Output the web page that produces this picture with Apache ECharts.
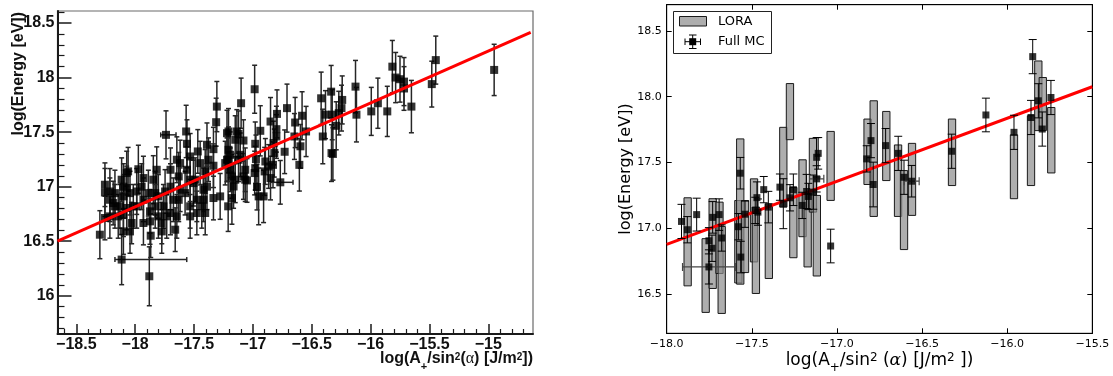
<!DOCTYPE html>
<html><head><meta charset="utf-8">
<script src="https://cdn.jsdelivr.net/npm/echarts@6/dist/echarts.min.js"></script>
<style>html,body{margin:0;padding:0;background:#fff}#c{width:1113px;height:376px}</style>
</head><body><div id="c"></div>
<script>
// ---------- Left panel (ROOT style) ----------
const leftXTicks = [-18.5, -18, -17.5, -17, -16.5, -16, -15.5, -15];
const leftYTicks = [16, 16.5, 17, 17.5, 18, 18.5];
const leftXRange = [-18.66, -14.62];
const leftYRange = [15.65, 18.61];
// [x, y, yErr, xErrLow, xErrHigh]
const leftPoints = [
[-14.95,18.07,0.235,0,0],[-15.446,18.16,0.22,0,0],[-15.48,17.94,0.21,0,0],[-15.653,17.734,0.24,0,0],
[-15.716,17.963,0.22,0,0],[-15.716,17.90,0.2,0,0],[-15.75,17.985,0.21,0,0],[-15.787,18.0,0.23,0,0],
[-15.815,18.10,0.24,0,0],[-15.858,17.69,0.23,0,0],[-15.938,17.765,0.23,0,0],[-15.994,17.69,0.22,0,0],
[-16.12,17.66,0.25,0,0],[-16.128,17.917,0.24,0,0],[-16.241,17.795,0.22,0,0],[-16.247,17.72,0.21,0,0],
[-16.27,17.674,0.2,0,0],[-16.292,17.558,0.22,0,0],[-16.326,17.66,0.23,0,0],[-16.335,17.871,0.24,0,0],
[-16.383,17.66,0.22,0,0],[-16.42,17.81,0.24,0,0],[-16.406,17.46,0.25,0,0],[-16.332,17.308,0.26,0,0],
[-16.32,17.30,0.24,0,0],[-16.548,17.506,0.23,0,0],[-16.582,17.65,0.22,0,0],[-16.596,17.37,0.2,0,0],
[-16.605,17.20,0.24,0,0],[-16.641,17.588,0.23,0,0],[-16.647,17.46,0.21,0,0],[-16.71,17.72,0.22,0,0],
[-16.73,17.32,0.2,0,0],[-16.795,17.667,0.22,0,0],[-16.80,17.527,0.21,0,0],[-16.80,17.46,0.2,0,0],
[-16.818,17.308,0.22,0,0],[-16.829,17.20,0.21,0,0],[-16.767,17.04,0.2,0.085,0.108],
[-16.985,17.893,0.22,0,0],[-17.10,17.765,0.23,0,0],[-17.136,17.506,0.2,0,0],[-17.122,17.484,0.21,0,0],
[-17.08,17.423,0.19,0,0],[-16.937,17.512,0.23,0,0],[-16.98,17.393,0.2,0,0],[-16.974,17.253,0.22,0,0],
[-16.85,17.597,0.22,0,0],[-16.824,17.40,0.2,0,0],[-16.85,17.079,0.2,0,0],[-16.965,16.997,0.21,0,0],
[-16.951,16.911,0.26,0,0],[-16.909,16.911,0.24,0,0],[-16.90,17.14,0.22,0,0],[-16.98,17.17,0.2,0,0],
[-16.985,17.125,0.2,0,0],[-17.05,17.057,0.2,0,0],[-17.08,17.094,0.21,0,0],[-17.107,17.292,0.2,0,0],
[-17.15,17.064,0.21,0,0],[-17.164,17.002,0.2,0,0],[-17.192,17.155,0.2,0,0],[-17.207,17.338,0.21,0,0],
[-17.21,17.247,0.2,0,0],[-17.178,16.896,0.24,0,0],[-17.21,16.82,0.23,0,0],[-17.15,17.43,0.22,0,0],
[-17.207,17.506,0.21,0,0],[-17.306,17.734,0.23,0,0],[-17.312,17.591,0.22,0,0],[-17.335,17.344,0.2,0,0],
[-17.335,17.192,0.2,0,0],[-17.335,16.896,0.2,0,0],[-17.278,16.911,0.21,0,0],[-17.22,17.49,0.21,0,0],
[-17.738,17.475,0.22,0.045,0.085],[-17.567,17.506,0.24,0,0],[-17.56,17.393,0.22,0,0],[-17.618,17.216,0.21,0,0],
[-17.468,17.323,0.2,0,0],[-17.42,16.972,0.2,0,0],[-17.49,17.064,0.2,0,0],[-17.973,17.16,0.22,0,0],
[-18.06,17.14,0.22,0,0],[-18.072,17.125,0.2,0,0],[-18.257,16.947,0.22,0,0],[-18.257,16.713,0.2,0,0],
[-18.30,16.56,0.22,0,0],[-18.115,16.332,0.23,0.057,0.553],[-17.88,16.179,0.27,0,0],[-17.868,16.551,0.2,0,0],
[-18.10,17.0,0.21,0,0],[-18.10,16.911,0.2,0,0],[-18.10,16.743,0.2,0,0],[-18.03,16.667,0.19,0,0],
[-18.044,16.59,0.2,0,0],[-18.10,16.59,0.21,0,0],[-18.215,16.88,0.2,0,0],[-18.172,16.941,0.21,0,0],
[-18.13,16.82,0.2,0,0],[-17.945,17.0,0.21,0,0],[-17.93,16.88,0.2,0,0],[-17.93,16.667,0.2,0,0],
[-17.846,17.064,0.22,0,0],[-17.83,16.941,0.2,0,0],[-17.83,16.82,0.2,0,0],[-17.774,16.667,0.19,0,0],
[-17.76,16.82,0.2,0,0],[-17.774,16.59,0.2,0,0],[-17.70,17.0,0.21,0,0],[-17.70,16.759,0.2,0,0],
[-17.63,17.094,0.22,0,0],[-17.63,16.88,0.2,0,0],[-17.646,16.728,0.2,0,0],[-17.56,17.155,0.21,0,0],
[-17.576,16.941,0.2,0,0],[-17.533,16.82,0.2,0,0],[-17.66,16.606,0.2,0,0],[-17.505,17.033,0.21,0,0],
[-17.476,16.88,0.2,0,0],[-17.434,16.82,0.2,0,0],[-17.39,17.0,0.21,0,0],[-17.405,17.14,0.2,0,0],
[-17.533,17.064,0.2,0,0],[-17.803,16.911,0.2,0,0],[-17.888,16.941,0.21,0,0],[-17.874,16.774,0.2,0,0],
[-17.987,16.82,0.2,0,0],[-17.987,16.956,0.21,0,0],[-18.187,16.85,0.2,0,0],[-18.044,16.941,0.2,0,0],
[-18.072,16.805,0.2,0,0],[-17.39,17.384,0.2,0,0],[-17.22,17.247,0.2,0,0],[-17.193,17.292,0.21,0,0],
[-17.065,17.064,0.2,0,0],[-18.257,17.018,0.2,0,0],[-18.215,16.728,0.2,0,0],[-18.172,16.82,0.2,0,0],
[-17.675,16.88,0.2,0,0],[-17.732,16.728,0.2,0,0],[-17.803,16.728,0.2,0,0],[-17.874,16.682,0.21,0,0],
[-17.533,16.728,0.2,0,0],[-17.476,16.759,0.2,0,0],[-17.42,16.88,0.2,0,0],[-17.405,16.759,0.2,0,0],
[-17.618,16.972,0.2,0,0],[-17.746,16.956,0.2,0,0],[-17.817,17.155,0.21,0,0],[-17.70,17.155,0.2,0,0],
[-17.646,17.247,0.21,0,0],[-17.533,17.277,0.21,0,0],[-17.448,17.216,0.2,0,0],[-17.377,17.247,0.2,0,0],
[-18.016,16.82,0.2,0,0],[-18.144,16.728,0.2,0,0],[-18.215,16.956,0.21,0,0],[-17.93,17.079,0.2,0,0],
[-18.115,17.064,0.2,0,0],[-18.072,16.988,0.2,0,0],[-17.122,17.247,0.2,0,0],[-17.065,17.155,0.2,0,0],
[-17.178,17.094,0.2,0,0],[-17.235,17.216,0.2,0,0],[-16.894,17.231,0.21,0,0],[-16.866,17.185,0.2,0,0]
];
const leftFit = [[-18.66, 16.50], [-14.64, 18.415]];

// ---------- Right panel (matplotlib style) ----------
const rightXTicks = [-18, -17.5, -17, -16.5, -16, -15.5];
const rightYTicks = [16.5, 17, 17.5, 18, 18.5];
const rightXRange = [-18, -15.5];
const rightYRange = [16.2, 18.7];
// LORA: [x, yLow, yHigh]
const loraBoxes = [
[-17.877,16.561,17.231],[-17.771,16.359,16.92],[-17.730,16.541,17.224],[-17.690,16.655,17.198],
[-17.677,16.351,17.013],[-17.579,16.583,17.21],[-17.568,16.574,17.679],[-17.540,16.662,17.21],
[-17.487,16.743,17.375],[-17.476,16.503,17.16],[-17.400,16.617,17.186],[-17.315,17.16,17.767],
[-17.276,17.673,18.10],[-17.256,16.775,17.31],[-17.202,16.935,17.52],[-17.172,16.705,17.261],
[-17.141,17.122,17.683],[-17.118,16.636,17.249],[-17.037,17.211,17.736],[-16.820,17.332,17.83],
[-16.784,17.089,17.969],[-16.710,17.362,17.888],[-16.641,17.089,17.633],[-16.606,16.837,17.438],
[-16.559,17.097,17.645],[-16.324,17.324,17.83],[-15.960,17.224,17.71],[-15.860,17.324,17.855],
[-15.817,17.742,18.272],[-15.791,17.742,18.146],[-15.741,17.42,17.918]
];
// Full MC: [x, y, yErr, xErr]
const fullMC = [
[-17.913,17.051,0.13,0],[-17.879,16.988,0.1,0],[-17.824,17.103,0.125,0],[-17.752,16.904,0.1,0],
[-17.734,16.847,0.1,0],[-17.752,16.705,0.13,0.155],[-17.73,17.082,0.12,0],[-17.692,17.103,0.12,0],
[-17.677,16.925,0.1,0],[-17.568,17.418,0.12,0],[-17.579,17.011,0.1,0],[-17.565,16.78,0.12,0],
[-17.54,17.106,0.1,0],[-17.48,17.135,0.1,0],[-17.47,17.232,0.12,0],[-17.464,17.122,0.1,0],
[-17.43,17.293,0.1,0],[-17.403,17.16,0.12,0],[-17.335,17.312,0.1,0],[-17.315,17.186,0.19,0],
[-17.276,17.231,0.1,0],[-17.256,17.292,0.12,0],[-17.204,17.173,0.1,0],[-17.178,17.279,0.13,0],
[-17.168,17.241,0.1,0],[-17.139,17.274,0.13,0],[-17.119,17.375,0.1,0.042],[-17.119,17.539,0.15,0],
[-17.11,17.569,0.12,0],[-17.037,16.864,0.128,0],[-16.825,17.527,0.1,0],[-16.80,17.666,0.13,0],
[-16.787,17.332,0.17,0],[-16.714,17.628,0.13,0],[-16.64,17.569,0.13,0],[-16.606,17.387,0.13,0],
[-16.561,17.357,0.12,0.044],[-16.326,17.585,0.13,0],[-16.125,17.861,0.128,0],[-15.96,17.729,0.13,0],
[-15.86,17.842,0.13,0],[-15.85,18.305,0.13,0],[-15.817,17.969,0.13,0],[-15.794,17.754,0.13,0],
[-15.743,17.994,0.13,0]
];
const rightFit = [[-18, 16.876], [-15.5, 18.076]];
const legendNames = ['LORA', 'Full MC'];

// ---------- helpers ----------
function minorTicks(major, range, step) {
  const out = [];
  const start = Math.floor(range[0] / step) * step;
  for (let v = start; v <= range[1] + 1e-9; v += step) {
    const r = Math.round(v * 1000) / 1000;
    if (r < range[0] || r > range[1]) continue;
    if (major.some(m => Math.abs(m - r) < 1e-6)) continue;
    out.push(r);
  }
  return out;
}
const minus = v => (v < 0 ? '\u2212' : '') + Math.abs(v);
const minus1 = v => (v < 0 ? '\u2212' : '') + Math.abs(v).toFixed(1);

const ROOTF = 'Liberation Sans';
const MPLF = 'DejaVu Sans';

function leftErr(params, api) {
  const x = api.value(0), y = api.value(1), ey = api.value(2), xl = api.value(3), xh = api.value(4);
  const c = api.coord([x, y]);
  const t = api.coord([x, y + ey]), b = api.coord([x, y - ey]);
  const st = { stroke: '#262626', lineWidth: 1.5 };
  const cap = 2.5;
  const ch = [
    { type: 'line', shape: { x1: c[0], y1: t[1], x2: c[0], y2: b[1] }, style: st },
    { type: 'line', shape: { x1: c[0] - cap, y1: t[1], x2: c[0] + cap, y2: t[1] }, style: st },
    { type: 'line', shape: { x1: c[0] - cap, y1: b[1], x2: c[0] + cap, y2: b[1] }, style: st }
  ];
  if (xl > 0 || xh > 0) {
    const l = api.coord([x - xl, y]), r = api.coord([x + xh, y]);
    ch.push({ type: 'line', shape: { x1: l[0], y1: c[1], x2: r[0], y2: c[1] }, style: st });
    ch.push({ type: 'line', shape: { x1: l[0], y1: c[1] - cap, x2: l[0], y2: c[1] + cap }, style: st });
    ch.push({ type: 'line', shape: { x1: r[0], y1: c[1] - cap, x2: r[0], y2: c[1] + cap }, style: st });
  }
  return { type: 'group', children: ch };
}
function rightErr(params, api) {
  const x = api.value(0), y = api.value(1), ey = api.value(2), ex = api.value(3);
  const c = api.coord([x, y]);
  const t = api.coord([x, y + ey]), b = api.coord([x, y - ey]);
  const st = { stroke: '#000', lineWidth: 1 };
  const cap = 4;
  const ch = [
    { type: 'line', shape: { x1: c[0], y1: t[1], x2: c[0], y2: b[1] }, style: st },
    { type: 'line', shape: { x1: c[0] - cap, y1: t[1], x2: c[0] + cap, y2: t[1] }, style: st },
    { type: 'line', shape: { x1: c[0] - cap, y1: b[1], x2: c[0] + cap, y2: b[1] }, style: st }
  ];
  if (ex > 0) {
    const l = api.coord([x - ex, y]), r = api.coord([x + ex, y]);
    const hs = { stroke: '#444', lineWidth: 1.2 };
    ch.push({ type: 'line', shape: { x1: l[0], y1: c[1], x2: r[0], y2: c[1] }, style: hs });
    ch.push({ type: 'line', shape: { x1: l[0], y1: c[1] - cap, x2: l[0], y2: c[1] + cap }, style: hs });
    ch.push({ type: 'line', shape: { x1: r[0], y1: c[1] - cap, x2: r[0], y2: c[1] + cap }, style: hs });
  }
  return { type: 'group', children: ch };
}
function loraBox(params, api) {
  const x = api.value(0), lo = api.value(1), hi = api.value(2);
  const p1 = api.coord([x, hi]), p2 = api.coord([x, lo]);
  const w = 7.3;
  return { type: 'rect', shape: { x: p1[0] - w / 2, y: p1[1], width: w, height: p2[1] - p1[1] },
           style: { fill: 'rgba(140,140,140,0.7)', stroke: '#1a1a1a', lineWidth: 1 } };
}

const chart = echarts.init(document.getElementById('c'));
const option = {
  animation: false,
  backgroundColor: '#fff',
  grid: [
    { left: 57.5, top: 11, width: 475.5, height: 323, show: true, borderColor: '#6a6a6a', borderWidth: 1.2, containLabel: false },
    { left: 666.7, top: 4.7, width: 425.6, height: 328.6, show: true, borderColor: '#111', borderWidth: 1, containLabel: false }
  ],
  xAxis: [
    { type: 'value', gridIndex: 0, min: leftXRange[0], max: leftXRange[1], position: 'bottom',
      axisLine: { show: true, onZero: false, lineStyle: { color: '#1a1a1a', width: 2 } },
      axisTick: { show: true, inside: true, length: 10, customValues: leftXTicks, lineStyle: { color: '#1a1a1a', width: 1.5 } },
      axisLabel: { show: true, customValues: leftXTicks, formatter: minus, fontFamily: ROOTF, fontWeight: 'bold', fontSize: 16, color: '#111', margin: 3 },
      splitLine: { show: false } },
    { type: 'value', gridIndex: 0, min: leftXRange[0], max: leftXRange[1], position: 'bottom',
      axisLine: { show: false, onZero: false },
      axisTick: { show: true, inside: true, length: 5, customValues: minorTicks(leftXTicks, leftXRange, 0.1), lineStyle: { color: '#1a1a1a', width: 1.2 } },
      axisLabel: { show: false }, splitLine: { show: false } },
    { type: 'value', gridIndex: 1, min: rightXRange[0], max: rightXRange[1], position: 'bottom',
      axisLine: { show: true, onZero: false, lineStyle: { color: '#000', width: 1 } },
      axisTick: { show: true, inside: true, length: 5, customValues: rightXTicks, lineStyle: { color: '#000' } },
      axisLabel: { show: true, customValues: rightXTicks, formatter: minus1, fontFamily: MPLF, fontSize: 11, color: '#000', margin: 5 },
      splitLine: { show: false } },
    { type: 'value', gridIndex: 1, min: rightXRange[0], max: rightXRange[1], position: 'top',
      axisLine: { show: true, onZero: false, lineStyle: { color: '#000', width: 1 } },
      axisTick: { show: true, inside: true, length: 5, customValues: rightXTicks, lineStyle: { color: '#000' } },
      axisLabel: { show: false }, splitLine: { show: false } }
  ],
  yAxis: [
    { type: 'value', gridIndex: 0, min: leftYRange[0], max: leftYRange[1], position: 'left',
      axisLine: { show: true, onZero: false, lineStyle: { color: '#1a1a1a', width: 2 } },
      axisTick: { show: true, inside: true, length: 14, customValues: leftYTicks, lineStyle: { color: '#1a1a1a', width: 1.5 } },
      axisLabel: { show: true, customValues: leftYTicks, formatter: minus, fontFamily: ROOTF, fontWeight: 'bold', fontSize: 16, color: '#111', margin: 3 },
      splitLine: { show: false } },
    { type: 'value', gridIndex: 0, min: leftYRange[0], max: leftYRange[1], position: 'left',
      axisLine: { show: false, onZero: false },
      axisTick: { show: true, inside: true, length: 7, customValues: minorTicks(leftYTicks, leftYRange, 0.1), lineStyle: { color: '#1a1a1a', width: 1.2 } },
      axisLabel: { show: false }, splitLine: { show: false } },
    { type: 'value', gridIndex: 1, min: rightYRange[0], max: rightYRange[1], position: 'left',
      axisLine: { show: true, onZero: false, lineStyle: { color: '#000', width: 1 } },
      axisTick: { show: true, inside: true, length: 5, customValues: rightYTicks, lineStyle: { color: '#000' } },
      axisLabel: { show: true, customValues: rightYTicks, formatter: minus1, fontFamily: MPLF, fontSize: 11, color: '#000', margin: 5 },
      splitLine: { show: false } },
    { type: 'value', gridIndex: 1, min: rightYRange[0], max: rightYRange[1], position: 'right',
      axisLine: { show: true, onZero: false, lineStyle: { color: '#000', width: 1 } },
      axisTick: { show: true, inside: true, length: 5, customValues: rightYTicks, lineStyle: { color: '#000' } },
      axisLabel: { show: false }, splitLine: { show: false } }
  ],
  series: [
    { type: 'custom', xAxisIndex: 0, yAxisIndex: 0, data: leftPoints, renderItem: leftErr, encode: { x: 0, y: 1 }, z: 2, silent: true, clip: true },
    { type: 'scatter', xAxisIndex: 0, yAxisIndex: 0, data: leftPoints.map(p => [p[0], p[1]]), symbol: 'rect', symbolSize: 8, itemStyle: { color: '#000' }, z: 3, silent: true },
    { type: 'line', xAxisIndex: 0, yAxisIndex: 0, data: leftFit, symbol: 'none', lineStyle: { color: '#ff0000', width: 3 }, z: 4, silent: true },

    { type: 'custom', name: legendNames[0], xAxisIndex: 2, yAxisIndex: 2, data: loraBoxes, renderItem: loraBox, encode: { x: 0, y: [1, 2] }, z: 2, silent: true, clip: true },
    { type: 'line', xAxisIndex: 2, yAxisIndex: 2, data: rightFit, symbol: 'none', lineStyle: { color: '#ff0000', width: 3 }, z: 3, silent: true },
    { type: 'custom', xAxisIndex: 2, yAxisIndex: 2, data: fullMC, renderItem: rightErr, encode: { x: 0, y: 1 }, z: 4, silent: true, clip: true },
    { type: 'scatter', name: legendNames[1], xAxisIndex: 2, yAxisIndex: 2, data: fullMC.map(p => [p[0], p[1]]), symbol: 'rect', symbolSize: 7, itemStyle: { color: '#000' }, z: 5, silent: true }
  ],
  graphic: [
    // left titles
    { type: 'text', x: 19, y: 12, rotation: Math.PI / 2, silent: true,
      style: { text: 'log(Energy [eV])', fill: '#111', font: 'bold 16px "Liberation Sans"', align: 'right', verticalAlign: 'middle', textAlign: 'right', textVerticalAlign: 'middle' } },
    { type: 'text', x: 533, y: 351, silent: true,
      style: { text: '{a|log(A}{s|+}{a|/sin}{p|2}{a|(}{g|α}{a|) [J/m}{p|2}{a|])}', align: 'right', verticalAlign: 'top', textAlign: 'right', textVerticalAlign: 'top', fill: '#111',
        rich: {
          a: { fontFamily: ROOTF, fontWeight: 'bold', fontSize: 16, lineHeight: 19, verticalAlign: 'top', fill: '#111' },
          g: { fontFamily: 'Liberation Serif', fontSize: 16, lineHeight: 19, verticalAlign: 'top', fill: '#111' },
          s: { fontFamily: ROOTF, fontWeight: 'bold', fontSize: 11, lineHeight: 11, padding: [10, 0, 0, 0], verticalAlign: 'top', fill: '#111' },
          p: { fontFamily: ROOTF, fontWeight: 'bold', fontSize: 10, lineHeight: 10, padding: [1, 0, 0, 0], verticalAlign: 'top', fill: '#111' }
        } } },
    // right titles
    { type: 'text', x: 626, y: 169, rotation: Math.PI / 2, silent: true,
      style: { text: 'log(Energy [eV])', fill: '#000', font: '16px "DejaVu Sans"', align: 'center', verticalAlign: 'middle', textAlign: 'center', textVerticalAlign: 'middle' } },
    { type: 'text', x: 879.5, y: 352, silent: true,
      style: { text: '{a|log(A}{s|+}{a|/sin}{p|2}{a| (}{g|α}{a|) [J/m}{p|2}{a| ])}', align: 'center', verticalAlign: 'top', textAlign: 'center', textVerticalAlign: 'top', fill: '#000',
        rich: {
          a: { fontFamily: MPLF, fontSize: 17, lineHeight: 22, verticalAlign: 'top', fill: '#000' },
          g: { fontFamily: 'DejaVu Serif', fontStyle: 'italic', fontSize: 17, lineHeight: 22, verticalAlign: 'top', fill: '#000' },
          s: { fontFamily: MPLF, fontSize: 12, lineHeight: 12, padding: [10, 0, 0, 0], verticalAlign: 'top', fill: '#000' },
          p: { fontFamily: MPLF, fontSize: 12, lineHeight: 12, verticalAlign: 'top', fill: '#000' }
        } } },
    // right legend
    { type: 'rect', shape: { x: 673.5, y: 11.5, width: 98, height: 42 }, style: { fill: '#fff', stroke: '#222', lineWidth: 1 }, z: 100, silent: true },
    { type: 'rect', shape: { x: 679.5, y: 16.5, width: 27, height: 9.5 }, style: { fill: 'rgba(140,140,140,0.7)', stroke: '#1a1a1a', lineWidth: 1 }, z: 101, silent: true },
    { type: 'text', x: 718, y: 21.5, z: 101, silent: true, style: { text: legendNames[0], font: '13px "DejaVu Sans"', fill: '#000', align: 'left', verticalAlign: 'middle', textAlign: 'left', textVerticalAlign: 'middle' } },
    { type: 'line', shape: { x1: 692.7, y1: 35, x2: 692.7, y2: 48.5 }, style: { stroke: '#000', lineWidth: 1 }, z: 101, silent: true },
    { type: 'line', shape: { x1: 689, y1: 35, x2: 696.5, y2: 35 }, style: { stroke: '#000', lineWidth: 1 }, z: 101, silent: true },
    { type: 'line', shape: { x1: 689, y1: 48.5, x2: 696.5, y2: 48.5 }, style: { stroke: '#000', lineWidth: 1 }, z: 101, silent: true },
    { type: 'line', shape: { x1: 685, y1: 41.7, x2: 700.5, y2: 41.7 }, style: { stroke: '#000', lineWidth: 1 }, z: 101, silent: true },
    { type: 'line', shape: { x1: 685, y1: 38.5, x2: 685, y2: 45 }, style: { stroke: '#000', lineWidth: 1 }, z: 101, silent: true },
    { type: 'line', shape: { x1: 700.5, y1: 38.5, x2: 700.5, y2: 45 }, style: { stroke: '#000', lineWidth: 1 }, z: 101, silent: true },
    { type: 'rect', shape: { x: 689.2, y: 38.2, width: 7, height: 7 }, style: { fill: '#000' }, z: 102, silent: true },
    { type: 'text', x: 718, y: 42, z: 101, silent: true, style: { text: legendNames[1], font: '13px "DejaVu Sans"', fill: '#000', align: 'left', verticalAlign: 'middle', textAlign: 'left', textVerticalAlign: 'middle' } }
  ]
};
chart.setOption(option);
</script></body></html>
